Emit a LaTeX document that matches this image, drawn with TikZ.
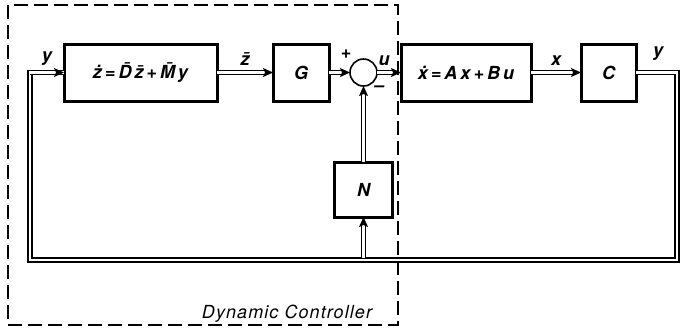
\documentclass[tikz,border=0pt]{standalone}
\usepackage{fontspec}
\setmainfont{TeX Gyre Heros}
\usetikzlibrary{positioning, arrows.meta}
\newcommand\dotv[1]{\accent"02D9 #1}
\newcommand\barv[1]{\accent"00AF #1}

\begin{document}
\begin{tikzpicture}[
    x=0.5pt, y=-0.5pt,
    block/.style={draw, line width=1.5pt, inner sep=0pt, outer sep=0pt, minimum height=28.5pt, font=\bfseries\itshape\small},
    sumnode/.style={circle, draw, line width=0.8pt, inner sep=0pt, outer sep=0pt, minimum size=13.5pt},
    sig/.style={double, double distance=1.4pt, line width=0.6pt, -{Stealth[length=5pt, width=4.5pt, inset=1pt]}},
    lbl/.style={font=\bfseries\itshape\small, inner sep=1pt}
  ]
  \useasboundingbox (0,0) rectangle (680,329);

  % Bloecke
  \node[block, minimum width=76.5pt] (ctrl) at (140.5,72.5) {\dotv{z}\,=\,\barv{D}\,\barv{z}\,+\,\barv{M}\,y};
  \node[block, minimum width=28pt, right=28pt of ctrl] (gain) {G};
  \node[sumnode, right=10.5pt of gain] (sum) {};
  \node[block, minimum width=65pt, right=12pt of sum] (plant) {\dotv{x}\,=\,A\,x\,+\,B\,u};
  \node[block, minimum width=27.5pt, right=25pt of plant] (outp) {C};
  \node[block, minimum width=29pt, minimum height=27.5pt, below=38pt of sum] (fb) {N};

  % Regler-Rahmen
  \draw[line width=0.6pt, dash pattern=on 7pt off 3pt] (8,5) rectangle (398,325);
  \node[font=\itshape\small, inner sep=0pt] (title) at (287,314) {\addfontfeature{LetterSpace=6}Dynamic Controller};

  % Rueckfuehrung
  \coordinate (ne) at (677,72.5);
  \coordinate (se) at (677,260);
  \coordinate (sw) at (30,260);
  \coordinate (nw) at (30,72.5);
  \coordinate (tap) at (fb.south |- se);

  % Signale
  \draw[sig] (ctrl) -- node[lbl, above=2pt] {\barv{z}} (gain);
  \draw[sig] (gain) -- (sum);
  \draw[sig] (sum) -- node[lbl, above=2pt, pos=0.3] {u} (plant);
  \draw[sig] (plant) -- node[lbl, above=2pt] {x} (outp);
  \draw[sig] (fb) -- (sum);
  \draw[sig, -] (outp.east) -- (ne) -- (se) -- (sw) -- (nw) -- (ctrl.west);
  \draw[sig] (nw) -- node[lbl, above=2pt] {y} (ctrl.west);
  \draw[sig] ([yshift=0.9pt]tap) -- (fb.south);

  % Vorzeichen
  \node[lbl] (plus) at (346,54) {+};
  \node[lbl] (minus) at (379,89) {\textendash};
  \node[lbl] (yout) at (658,54) {y};
\end{tikzpicture}
\end{document}
